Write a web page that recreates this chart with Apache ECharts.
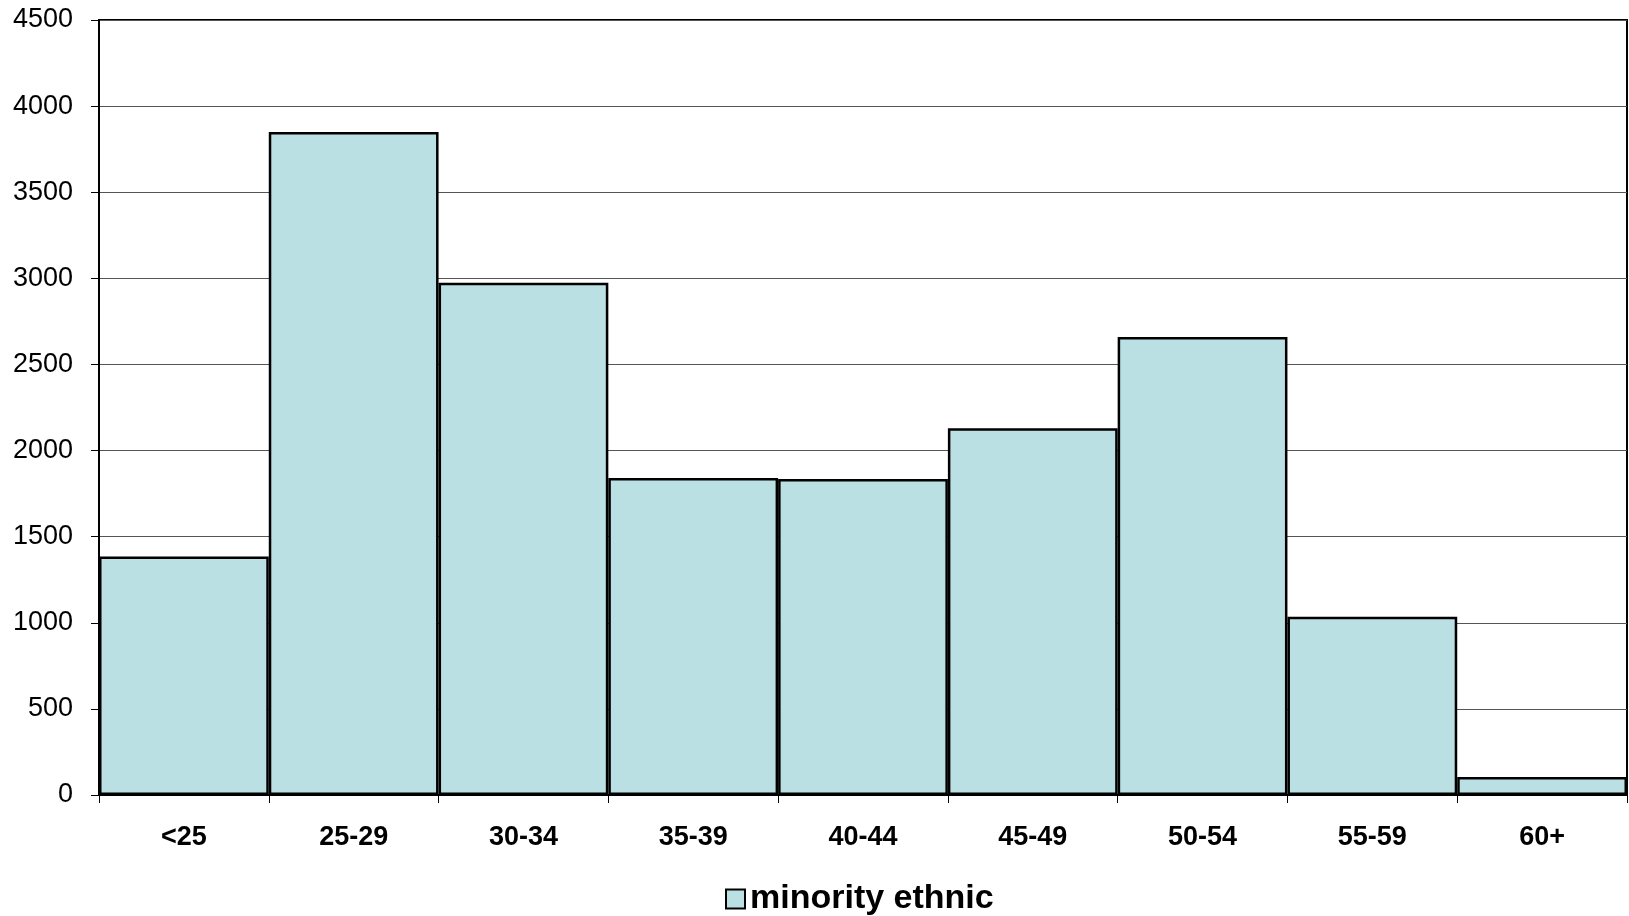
<!DOCTYPE html>
<html>
<head>
<meta charset="utf-8">
<script src="https://cdn.jsdelivr.net/npm/echarts@6/dist/echarts.min.js"></script>
<style>
html,body{margin:0;padding:0;background:#fff;}
#chart{width:1629px;height:916px;}
</style>
</head>
<body>
<div id="chart"></div>
<script>
const categories = ['<25', '25-29', '30-34', '35-39', '40-44', '45-49', '50-54', '55-59', '60+'];
const seriesName = 'minority ethnic';
const values = [1385, 3850, 2975, 1840, 1835, 2130, 2660, 1035, 105];

const chart = echarts.init(document.getElementById('chart'));
chart.setOption({
  animation: false,
  backgroundColor: '#ffffff',
  textStyle: { fontFamily: 'Liberation Sans, Arial, sans-serif' },
  grid: {
    left: 99, right: 2, top: 20, bottom: 121,
    show: true, borderColor: '#000', borderWidth: 2, backgroundColor: 'transparent'
  },
  legend: {
    data: [{ name: seriesName, icon: 'rect' }],
    left: 720, top: 877,
    itemWidth: 19, itemHeight: 19, itemGap: 10,
    itemStyle: { borderColor: '#000', borderWidth: 2 },
    textStyle: { fontSize: 34, fontWeight: 'bold', color: '#000', fontFamily: 'Liberation Sans, Arial, sans-serif' }
  },
  xAxis: {
    type: 'category',
    data: categories,
    axisLine: { show: true, lineStyle: { color: '#000', width: 2 } },
    axisTick: { show: true, length: 8, lineStyle: { color: '#000', width: 1 } },
    axisLabel: { margin: 29, fontSize: 27, fontWeight: 'bold', color: '#000', fontFamily: 'Liberation Sans, Arial, sans-serif' },
    splitLine: { show: false }
  },
  yAxis: {
    type: 'value',
    min: 0, max: 4500, interval: 500,
    axisLine: { show: true, lineStyle: { color: '#000', width: 2 } },
    axisTick: { show: true, length: 8, lineStyle: { color: '#000', width: 1 } },
    axisLabel: { margin: 26, fontSize: 27, color: '#000', fontFamily: 'Liberation Sans, Arial, sans-serif',
      formatter: function (v) { return String(v); } },
    splitLine: { show: true, lineStyle: { color: '#555', width: 1 } }
  },
  series: [{
    name: seriesName,
    type: 'bar',
    data: values,
    barCategoryGap: '0%',
    itemStyle: { color: '#BBE0E3', borderColor: '#000', borderWidth: 2.5 }
  }]
});
</script>
</body>
</html>
